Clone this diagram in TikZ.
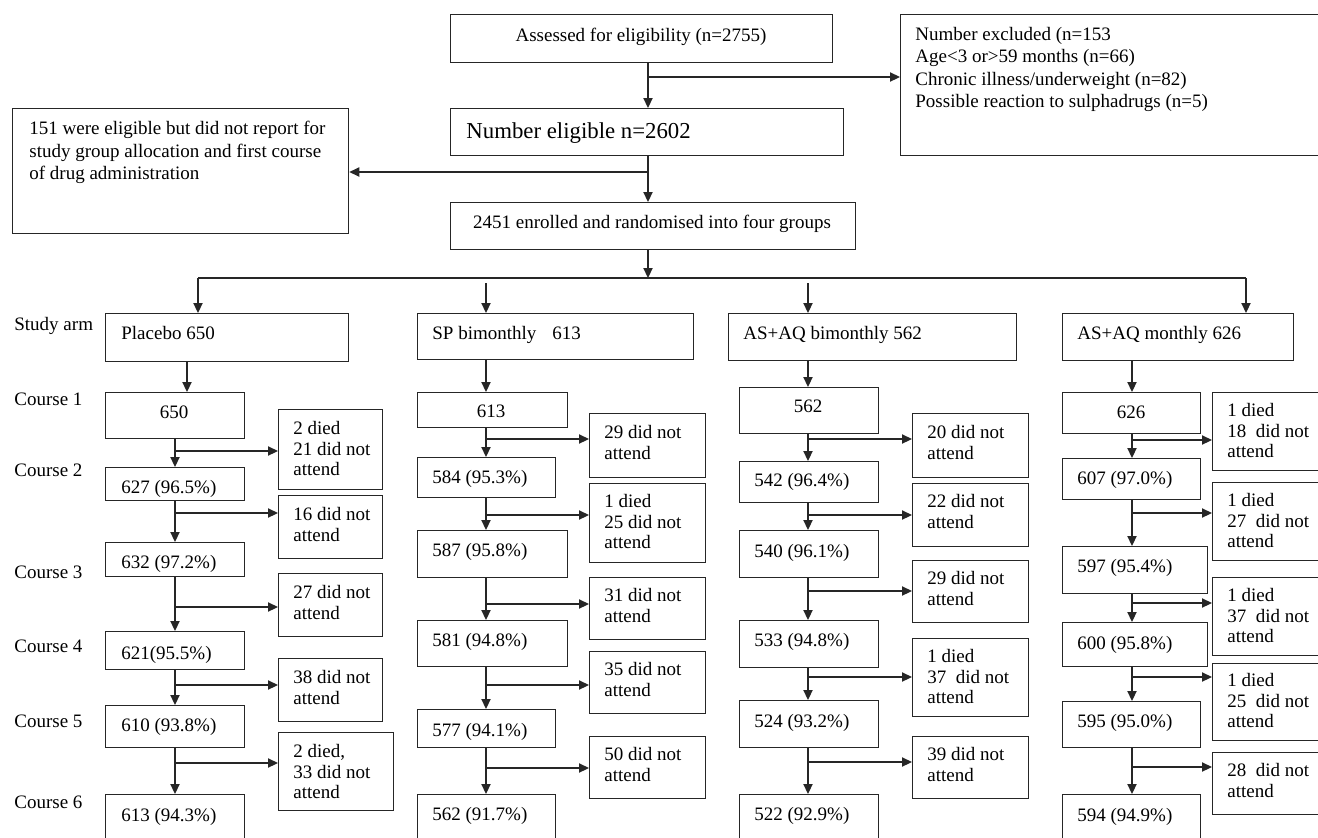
\documentclass[tikz,border=0pt]{standalone}
\usepackage{fontspec}
\setmainfont{Liberation Serif}
\usetikzlibrary{arrows.meta,calc}
\newcommand\mybox[5]{\node[bx, minimum width={(#4-#2)*0.5pt}, minimum height={(#5-#3)*0.5pt}, anchor=north west] (#1) at (#2,#3) {};}
\newcommand\flowstep[6]{%
  \coordinate (#6) at (#1,#4);
  \draw[arr] (#6 |- #2.south) -- (#6 |- #3.north);
  \draw[arr] (#6) -- (#6 -| #5.west);}
\begin{document}
\begin{tikzpicture}[x=0.5pt,y=-0.5pt,
  bx/.style={draw=black!85, line width=0.65pt, inner sep=0pt, fill=none},
  arr/.style={draw=black!85, line width=0.65pt, -{Triangle[length=5pt,width=4.6pt]}},
  ln/.style={draw=black!85, line width=0.65pt},
  tx/.style={inner sep=0pt, font=\fontsize{9.5}{10.25}\selectfont, text=black},
  txm/.style={tx, align=left, anchor=north west},
  txl/.style={inner sep=0pt, font=\fontsize{11.4}{13}\selectfont, text=black}]
\clip (0,0) rectangle (1318,837);
\fill[white] (0,0) rectangle (1318,837);
% ---------- top boxes
\mybox{A}{450}{14}{832}{62}
\mybox{E}{900}{14}{1340}{155}
\mybox{B}{450}{108}{843}{155}
\mybox{D}{12}{108}{348}{233}
\mybox{C}{450}{202}{855}{249}
\node[tx, anchor=base] (tA) at (641,41) {Assessed for eligibility (n=2755)};
\node[txm, font=\fontsize{9.5}{11.15}\selectfont] (tE) at (915,27) {Number excluded (n=153\\Age<3 or>59 months (n=66)\\Chronic illness/underweight (n=82)\\Possible reaction to sulphadrugs (n=5)};
\node[txl, anchor=base west] (tB) at (466,138) {Number eligible n=2602};
\node[txm, font=\fontsize{9.5}{11.25}\selectfont] (tD) at (29,121) {151 were eligible but did not report for\\study group allocation and first course\\of drug administration};
\node[tx, anchor=base] (tC) at (652,228) {2451 enrolled and randomised into four groups};
% ---------- top connectors
\coordinate (m1) at (648,77);
\coordinate (m2) at (648,172);
\coordinate (hl) at (198,278);
\coordinate (hr) at (1246,278);
\coordinate (hm) at (648,278);
\coordinate (a2) at (486,283);
\coordinate (a3) at (808,283);
\draw[arr] (m1 |- A.south) -- (m1 |- B.north);
\draw[arr] (m1) -- (m1 -| E.west);
\draw[arr] (m2 |- B.south) -- (m2 |- C.north);
\draw[arr] (m2) -- (m2 -| D.east);
\draw[arr] (hm |- C.south) -- (hm);
\draw[ln] (hl) -- (hr);
% ---------- left labels
\node[tx, anchor=base west] (l0) at (14,330) {Study arm};
\node[tx, anchor=base west] (l1) at (14,405) {Course 1};
\node[tx, anchor=base west] (l2) at (14,476) {Course 2};
\node[tx, anchor=base west] (l3) at (14,578) {Course 3};
\node[tx, anchor=base west] (l4) at (14,652) {Course 4};
\node[tx, anchor=base west] (l5) at (14,727) {Course 5};
\node[tx, anchor=base west] (l6) at (14,808) {Course 6};
% ---------- column 1: Placebo
\mybox{P0}{105}{313}{348}{361}
\mybox{P1}{105}{392}{244}{438}
\mybox{S1}{278}{409}{382}{489}
\mybox{P2}{105}{467}{244}{500}
\mybox{S2}{278}{495}{382}{558}
\mybox{P3}{105}{542}{244}{576}
\mybox{S3}{278}{573}{382}{636}
\mybox{P4}{105}{631}{244}{669}
\mybox{S4}{278}{658}{382}{721}
\mybox{P5}{105}{705}{244}{747}
\mybox{S5}{278}{732}{393}{810}
\mybox{P6}{105}{794}{244}{870}
\node[tx, anchor=base west] (tP0) at (121,339) {Placebo 650};
\node[tx, anchor=base] (tP1) at (174,418) {650};
\node[tx, anchor=base west] (tP2) at (121,493) {627 (96.5\%)};
\node[tx, anchor=base west] (tP3) at (121,568) {632 (97.2\%)};
\node[tx, anchor=base west] (tP4) at (121,659) {621(95.5\%)};
\node[tx, anchor=base west] (tP5) at (121,731) {610 (93.8\%)};
\node[tx, anchor=base west] (tP6) at (121,821) {613 (94.3\%)};
\node[txm] (tS1) at (293,421) {2 died\\21 did not\\attend};
\node[txm] (tS2) at (293,507) {16 did not\\attend};
\node[txm] (tS3) at (293,585) {27 did not\\attend};
\node[txm] (tS4) at (293,670) {38 did not\\attend};
\node[txm] (tS5) at (293,744) {2 died,\\33 did not\\attend};
\coordinate (p0a) at (187,0);
\draw[arr] (hl) -- (hl |- P0.north);
\draw[arr] (p0a |- P0.south) -- (p0a |- P1.north);
\flowstep{175}{P1}{P2}{451}{S1}{pb1}
\flowstep{175}{P2}{P3}{513}{S2}{pb2}
\flowstep{175}{P3}{P4}{607}{S3}{pb3}
\flowstep{175}{P4}{P5}{685}{S4}{pb4}
\flowstep{175}{P5}{P6}{763}{S5}{pb5}
% ---------- column 2: SP bimonthly
\mybox{Q0}{417}{313}{693}{359}
\mybox{Q1}{417}{392}{567}{427}
\mybox{T1}{589}{413}{705}{477}
\mybox{Q2}{417}{457}{555}{497}
\mybox{T2}{589}{483}{705}{562}
\mybox{Q3}{417}{530}{567}{577}
\mybox{T3}{589}{577}{705}{639}
\mybox{Q4}{417}{620}{567}{666}
\mybox{T4}{589}{651}{705}{713}
\mybox{Q5}{417}{709}{555}{747}
\mybox{T5}{589}{736}{705}{798}
\mybox{Q6}{417}{794}{555}{870}
\node[tx, anchor=base west] (tQ0) at (432,339) {SP bimonthly\hspace{8pt}613};
\node[tx, anchor=base] (tQ1) at (491,417) {613};
\node[tx, anchor=base west] (tQ2) at (432,483) {584 (95.3\%)};
\node[tx, anchor=base west] (tQ3) at (432,556) {587 (95.8\%)};
\node[tx, anchor=base west] (tQ4) at (432,646) {581 (94.8\%)};
\node[tx, anchor=base west] (tQ5) at (432,736) {577 (94.1\%)};
\node[tx, anchor=base west] (tQ6) at (432,820) {562 (91.7\%)};
\node[txm] (tT1) at (604,425) {29 did not\\attend};
\node[txm] (tT2) at (604,494) {1 died\\25 did not\\attend};
\node[txm] (tT3) at (604,588) {31 did not\\attend};
\node[txm] (tT4) at (604,662) {35 did not\\attend};
\node[txm] (tT5) at (604,747) {50 did not\\attend};
\draw[arr] (a2) -- (a2 |- Q0.north);
\draw[arr] (a2 |- Q0.south) -- (a2 |- Q1.north);
\flowstep{486}{Q1}{Q2}{439}{T1}{qb1}
\flowstep{486}{Q2}{Q3}{515}{T2}{qb2}
\flowstep{486}{Q3}{Q4}{604}{T3}{qb3}
\flowstep{486}{Q4}{Q5}{685}{T4}{qb4}
\flowstep{486}{Q5}{Q6}{768}{T5}{qb5}
% ---------- column 3: AS+AQ bimonthly
\mybox{R0}{728}{313}{1016}{360}
\mybox{R1}{739}{387}{878}{433}
\mybox{U1}{912}{413}{1028}{477}
\mybox{R2}{739}{461}{878}{502}
\mybox{U2}{912}{483}{1028}{546}
\mybox{R3}{739}{530}{878}{577}
\mybox{U3}{912}{560}{1028}{622}
\mybox{R4}{739}{620}{878}{667}
\mybox{U4}{912}{638}{1028}{716}
\mybox{R5}{739}{700}{878}{747}
\mybox{U5}{912}{736}{1028}{798}
\mybox{R6}{739}{794}{878}{870}
\node[tx, anchor=base west] (tR0) at (743,339) {AS+AQ bimonthly 562};
\node[tx, anchor=base] (tR1) at (808,412) {562};
\node[tx, anchor=base west] (tR2) at (754,486) {542 (96.4\%)};
\node[tx, anchor=base west] (tR3) at (754,557) {540 (96.1\%)};
\node[tx, anchor=base west] (tR4) at (754,646) {533 (94.8\%)};
\node[tx, anchor=base west] (tR5) at (754,727) {524 (93.2\%)};
\node[tx, anchor=base west] (tR6) at (754,820) {522 (92.9\%)};
\node[txm] (tU1) at (927,425) {20 did not\\attend};
\node[txm] (tU2) at (927,494) {22 did not\\attend};
\node[txm] (tU3) at (927,571) {29 did not\\attend};
\node[txm] (tU4) at (927,649) {1 died\\37 \ did not\\attend};
\node[txm] (tU5) at (927,747) {39 did not\\attend};
\draw[arr] (a3) -- (a3 |- R0.north);
\draw[arr] (a3 |- R0.south) -- (a3 |- R1.north);
\flowstep{808}{R1}{R2}{439}{U1}{rb1}
\flowstep{808}{R2}{R3}{515}{U2}{rb2}
\flowstep{808}{R3}{R4}{591}{U3}{rb3}
\flowstep{808}{R4}{R5}{677}{U4}{rb4}
\flowstep{808}{R5}{R6}{762}{U5}{rb5}
% ---------- column 4: AS+AQ monthly
\mybox{V0}{1062}{313}{1293}{360}
\mybox{V1}{1062}{392}{1200}{433}
\mybox{W1}{1212}{392}{1340}{470}
\mybox{V2}{1062}{458}{1200}{499}
\mybox{W2}{1212}{482}{1340}{560}
\mybox{V3}{1062}{546}{1207}{593}
\mybox{W3}{1212}{577}{1340}{655}
\mybox{V4}{1062}{622}{1207}{666}
\mybox{W4}{1212}{663}{1340}{740}
\mybox{V5}{1062}{701}{1200}{747}
\mybox{W5}{1212}{752}{1340}{814}
\mybox{V6}{1062}{794}{1200}{870}
\node[tx, anchor=base west] (tV0) at (1077,339) {AS+AQ monthly 626};
\node[tx, anchor=base] (tV1) at (1131,418) {626};
\node[tx, anchor=base west] (tV2) at (1077,484) {607 (97.0\%)};
\node[tx, anchor=base west] (tV3) at (1077,572) {597 (95.4\%)};
\node[tx, anchor=base west] (tV4) at (1077,649) {600 (95.8\%)};
\node[tx, anchor=base west] (tV5) at (1077,727) {595 (95.0\%)};
\node[tx, anchor=base west] (tV6) at (1077,821) {594 (94.9\%)};
\node[txm] (tW1) at (1227,403) {1 died\\18 \ did not\\attend};
\node[txm] (tW2) at (1227,493) {1 died\\27 \ did not\\attend};
\node[txm] (tW3) at (1227,588) {1 died\\37 \ did not\\attend};
\node[txm] (tW4) at (1227,673) {1 died\\25 \ did not\\attend};
\node[txm] (tW5) at (1227,763) {28 \ did not\\attend};
\coordinate (a4) at (1132,0);
\draw[arr] (hr) -- (hr |- V0.north);
\draw[arr] (a4 |- V0.south) -- (a4 |- V1.north);
\flowstep{1132}{V1}{V2}{440}{W1}{vb1}
\flowstep{1132}{V2}{V3}{513}{W2}{vb2}
\flowstep{1132}{V3}{V4}{603}{W3}{vb3}
\flowstep{1132}{V4}{V5}{677}{W4}{vb4}
\flowstep{1132}{V5}{V6}{767}{W5}{vb5}
\end{tikzpicture}
\end{document}
